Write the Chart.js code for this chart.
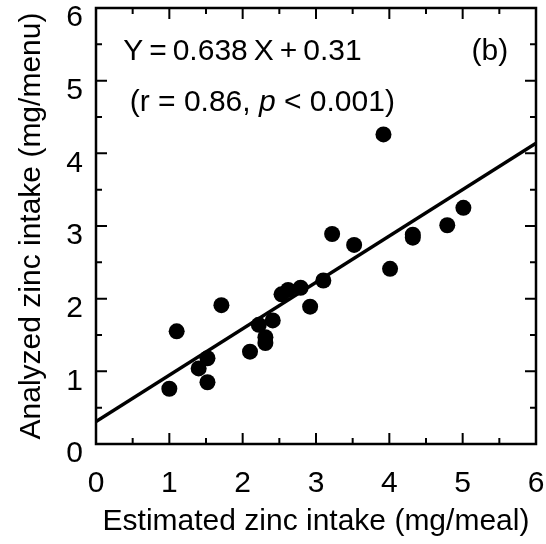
<!DOCTYPE html>
<html>
<head>
<meta charset="utf-8">
<script src="https://cdn.jsdelivr.net/npm/chart.js@4"></script>
<style>
  html, body { margin: 0; padding: 0; background: #fff; }
  #wrap { width: 546px; height: 544px; }
</style>
</head>
<body>
<div id="wrap"><canvas id="zincChart" width="546" height="544"></canvas></div>
<script>
const estimated = [1.00, 1.10, 1.40, 1.52, 1.52, 1.71, 2.10, 2.22, 2.31, 2.31, 2.41, 2.53, 2.62, 2.79, 2.92, 3.10, 3.22, 3.52, 3.92, 4.01, 4.32, 4.32, 4.79, 5.01];
const analyzed = [0.76, 1.55, 1.04, 1.18, 0.85, 1.91, 1.27, 1.64, 1.47, 1.39, 1.70, 2.06, 2.12, 2.15, 1.89, 2.25, 2.89, 2.74, 4.26, 2.41, 2.88, 2.84, 3.01, 3.25];
const lineX = [0, 6];
const lineY = [0.31, 4.14];
const axisTicks = [0, 1, 2, 3, 4, 5, 6];

const FONT = "'Liberation Sans', Arial, sans-serif";
const points = estimated.map((x, i) => ({ x: x, y: analyzed[i] }));
const fitLine = lineX.map((x, i) => ({ x: x, y: lineY[i] }));

// marco con ticks hacia dentro en los cuatro lados
const frameTicks = {
    id: "frameTicks",
    afterDatasetsDraw(chart) {
        const ctx = chart.ctx;
        const a = chart.chartArea;
        const sx = chart.scales.x;
        const sy = chart.scales.y;
        ctx.save();
        ctx.strokeStyle = "#000";
        ctx.lineWidth = 2.5;
        ctx.strokeRect(a.left, a.top, a.right - a.left, a.bottom - a.top);
        ctx.lineWidth = 2;
        for (let i = 0; i <= 12; i++) {
            const v = i / 2;
            const len = i % 2 === 0 ? 11 : 6;
            const px = sx.getPixelForValue(v);
            const py = sy.getPixelForValue(v);
            ctx.beginPath();
            ctx.moveTo(px, a.bottom); ctx.lineTo(px, a.bottom - len);
            ctx.moveTo(px, a.top); ctx.lineTo(px, a.top + len);
            ctx.moveTo(a.left, py); ctx.lineTo(a.left + len, py);
            ctx.moveTo(a.right, py); ctx.lineTo(a.right - len, py);
            ctx.stroke();
        }
        ctx.restore();
    },
    afterDraw(chart) {
        const ctx = chart.ctx;
        const sx = chart.scales.x;
        const sy = chart.scales.y;
        ctx.save();
        ctx.fillStyle = "#000";
        ctx.textBaseline = "alphabetic";
        ctx.font = "30px " + FONT;
        ctx.textAlign = "left";
        ctx.fillText("Y\u2009=\u20090.638\u2009X\u2009+\u20090.31", sx.getPixelForValue(0.37), sy.getPixelForValue(5.29));
        ctx.fillText("(b)", sx.getPixelForValue(5.12), sy.getPixelForValue(5.29));
        let x = sx.getPixelForValue(0.46);
        const y = sy.getPixelForValue(4.58);
        const part1 = "(r = 0.86, ";
        ctx.fillText(part1, x, y);
        x += ctx.measureText(part1).width;
        ctx.font = "italic 30px " + FONT;
        ctx.fillText("p", x, y);
        x += ctx.measureText("p").width;
        ctx.font = "30px " + FONT;
        ctx.fillText(" < 0.001)", x, y);
        ctx.restore();
    }
};

new Chart(document.getElementById("zincChart"), {
    type: "scatter",
    data: {
        datasets: [
            {
                type: "line",
                data: fitLine,
                borderColor: "#000",
                borderWidth: 3.5,
                pointRadius: 0,
                fill: false,
                order: 2,
            },
            {
                type: "scatter",
                data: points,
                backgroundColor: "#000",
                borderWidth: 0,
                pointRadius: 8,
                order: 1,
            },
        ],
    },
    options: {
        responsive: false,
        animation: false,
        layout: { padding: { top: 6, right: 10, left: 0, bottom: 0 } },
        plugins: { legend: { display: false }, tooltip: { enabled: false } },
        scales: {
            x: {
                type: "linear",
                min: 0,
                max: 6,
                afterBuildTicks: (s) => { s.ticks = axisTicks.map((v) => ({ value: v })); },
                afterFit: (s) => {
                    s.height = 100;
                    s.paddingLeft = 0; s.paddingRight = 0;
                },
                grid: { display: false, drawTicks: false },
                border: { display: false },
                ticks: { color: "#000", padding: 22, font: { family: FONT, size: 30 } },
                title: {
                    display: true,
                    text: "Estimated zinc intake (mg/meal)",
                    color: "#000",
                    padding: { top: 0, bottom: 4 },
                    font: { family: FONT, size: 30 },
                },
            },
            y: {
                type: "linear",
                min: 0,
                max: 6,
                afterBuildTicks: (s) => { s.ticks = axisTicks.map((v) => ({ value: v })); },
                afterFit: (s) => {
                    s.width = 96;
                    s.paddingTop = 0; s.paddingBottom = 0;
                },
                grid: { display: false, drawTicks: false },
                border: { display: false },
                ticks: { color: "#000", padding: 13, labelOffset: 10, font: { family: FONT, size: 30 } },
                title: {
                    display: true,
                    text: "Analyzed zinc intake (mg/menu)",
                    color: "#000",
                    padding: { top: 14, bottom: 0 },
                    font: { family: FONT, size: 30 },
                },
            },
        },
    },
    plugins: [frameTicks],
});
</script>
</body>
</html>
